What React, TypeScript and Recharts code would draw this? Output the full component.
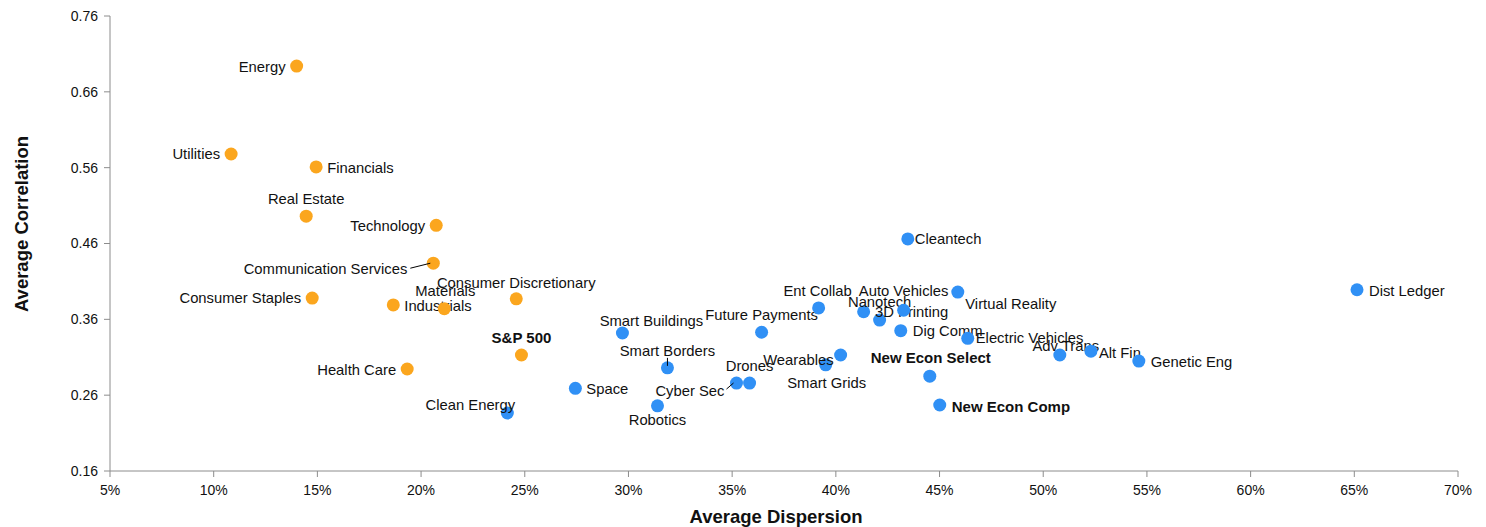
import React from "react"
import { ScatterChart, Scatter, XAxis, YAxis, Label } from "recharts"

const sectorNames = [
  "Energy", "Utilities", "Financials", "Real Estate", "Technology", "Communication Services",
  "Consumer Staples", "Industrials", "Materials", "Consumer Discretionary", "S&P 500", "Health Care",
]
const sectorDispersion = [14.0, 10.84, 14.94, 14.46, 20.73, 20.59, 14.75, 18.66, 21.12, 24.59, 24.84, 19.33]
const sectorCorrelation = [0.694, 0.578, 0.561, 0.496, 0.484, 0.434, 0.388, 0.379, 0.374, 0.387, 0.313, 0.2945]

const themeNames = [
  "Clean Energy", "Space", "Smart Buildings", "Smart Borders", "Robotics", "Cyber Sec", "Drones",
  "Future Payments", "Ent Collab", "Smart Grids", "Wearables", "Nanotech", "3D Printing", "Auto Vehicles",
  "Cleantech", "Dig Comm", "New Econ Select", "New Econ Comp", "Virtual Reality", "Electric Vehicles",
  "Adv Trans", "Alt Fin", "Genetic Eng", "Dist Ledger",
]
const themeDispersion = [
  24.16, 27.44, 29.71, 31.88, 31.4, 35.21, 35.84, 36.42, 39.17, 39.51, 40.23, 41.34, 42.11, 43.27,
  43.47, 43.13, 44.53, 45.01, 45.88, 46.36, 50.8, 52.3, 54.61, 65.13,
]
const themeCorrelation = [
  0.2365, 0.269, 0.342, 0.296, 0.246, 0.276, 0.276, 0.343, 0.375, 0.3, 0.313, 0.37, 0.359, 0.372,
  0.466, 0.345, 0.285, 0.247, 0.396, 0.335, 0.313, 0.318, 0.305, 0.399,
]

const xTicks = [5, 10, 15, 20, 25, 30, 35, 40, 45, 50, 55, 60, 65, 70]
const yTicks = [0.16, 0.26, 0.36, 0.46, 0.56, 0.66, 0.76]

const sectorData = sectorNames.map((name, i) => ({ name, x: sectorDispersion[i], y: sectorCorrelation[i] }))
const themeData = themeNames.map((name, i) => ({ name, x: themeDispersion[i], y: themeCorrelation[i] }))

// label placement relative to the dot: [dx, dy, anchor, bold, leader]
type LabelPos = [number, number, "start" | "middle" | "end", boolean?, number[]?]
const labelPos: Record<string, LabelPos> = {
  "Energy": [-11, 1, "end"],
  "Utilities": [-11, 0, "end"],
  "Financials": [11, 1, "start"],
  "Real Estate": [0, -17, "middle"],
  "Technology": [-11, 1, "end"],
  "Communication Services": [-26, 6, "end", false, [-23, 5, -3, 0]],
  "Consumer Staples": [-11, 0, "end"],
  "Industrials": [11, 1, "start"],
  "Materials": [1, -18, "middle"],
  "Consumer Discretionary": [0, -16, "middle"],
  "S&P 500": [0, -17, "middle", true],
  "Health Care": [-11, 1, "end"],
  "Clean Energy": [-37, -8, "middle"],
  "Space": [11, 1, "start"],
  "Smart Buildings": [29, -12, "middle"],
  "Smart Borders": [0, -17, "middle", false, [0, -10, 0, -2]],
  "Robotics": [0, 14, "middle"],
  "Cyber Sec": [-12, 8, "end", false, [-10, 6, -3, 0]],
  "Drones": [0, -17, "middle"],
  "Future Payments": [0, -17, "middle"],
  "Ent Collab": [-1, -17, "middle"],
  "Smart Grids": [1, 18, "middle"],
  "Wearables": [-7, 5, "end"],
  "Nanotech": [16, -10, "middle"],
  "3D Printing": [32, -8, "middle"],
  "Auto Vehicles": [0, -19, "middle"],
  "Cleantech": [7, 0, "start"],
  "Dig Comm": [12, 0, "start"],
  "New Econ Select": [1, -19, "middle", true],
  "New Econ Comp": [12, 1, "start", true],
  "Virtual Reality": [53, 12, "middle"],
  "Electric Vehicles": [8, 0, "start"],
  "Adv Trans": [6, -9, "middle"],
  "Alt Fin": [8, 2, "start"],
  "Genetic Eng": [12, 1, "start"],
  "Dist Ledger": [12, 1, "start"],
}

const labelFont = "'Liberation Sans', Arial, sans-serif"
const tickFont = "'Liberation Sans', Arial, sans-serif"

const makeDot = (color: string) => (props: any) => {
  const { cx, cy, payload } = props
  const pos = labelPos[payload.name] || [10, 0, "start"]
  const [dx, dy, anchor, bold, leader] = pos
  return (
    <g>
      <circle cx={cx} cy={cy} r={6.5} fill={color} />
      {leader && (
        <line
          x1={cx + leader[0]}
          y1={cy + leader[1]}
          x2={cx + leader[2]}
          y2={cy + leader[3]}
          stroke="#000"
          strokeWidth={1}
        />
      )}
      <text
        x={cx + dx}
        y={cy + dy}
        textAnchor={anchor}
        dominantBaseline="central"
        fontFamily={labelFont}
        fontSize={bold ? 15 : 14.8}
        fontWeight={bold ? "bold" : "normal"}
        fill="#111"
      >
        {payload.name}
      </text>
    </g>
  )
}

const titleStyle = { fontWeight: "bold" as const, fontSize: 18.5, fontFamily: labelFont, fill: "#111" }

export default function App() {
  return (
    <div style={{ background: "#fff", width: 1486, height: 527 }}>
      <style>{`body { margin: 0; }`}</style>
      <ScatterChart width={1486} height={527} margin={{ top: 16, right: 28, bottom: 0, left: 0 }}>
        <XAxis
          type="number"
          dataKey="x"
          domain={[5, 70]}
          ticks={xTicks}
          tickFormatter={(v) => `${v}%`}
          height={56}
          stroke="#8c8c8c"
          tickSize={6}
          tickMargin={8}
          tick={{ fill: "#111", fontSize: 14, fontFamily: tickFont }}
          allowDataOverflow
        >
          <Label
            content={() => (
              <text x={776} y={516} textAnchor="middle" dominantBaseline="central" style={titleStyle}>
                Average Dispersion
              </text>
            )}
          />
        </XAxis>
        <YAxis
          type="number"
          dataKey="y"
          domain={[0.16, 0.76]}
          ticks={yTicks}
          tickFormatter={(v) => v.toFixed(2)}
          width={110}
          stroke="#8c8c8c"
          tickSize={6}
          tickMargin={6}
          tick={{ fill: "#111", fontSize: 14, fontFamily: tickFont }}
          allowDataOverflow
        >
          <Label
            content={() => (
              <text
                x={21}
                y={224}
                textAnchor="middle"
                dominantBaseline="central"
                transform="rotate(-90 21 224)"
                style={titleStyle}
              >
                Average Correlation
              </text>
            )}
          />
        </YAxis>
        <Scatter data={themeData} fill="#3090F5" shape={makeDot("#3090F5")} isAnimationActive={false} />
        <Scatter data={sectorData} fill="#FBA61E" shape={makeDot("#FBA61E")} isAnimationActive={false} />
      </ScatterChart>
    </div>
  )
}
